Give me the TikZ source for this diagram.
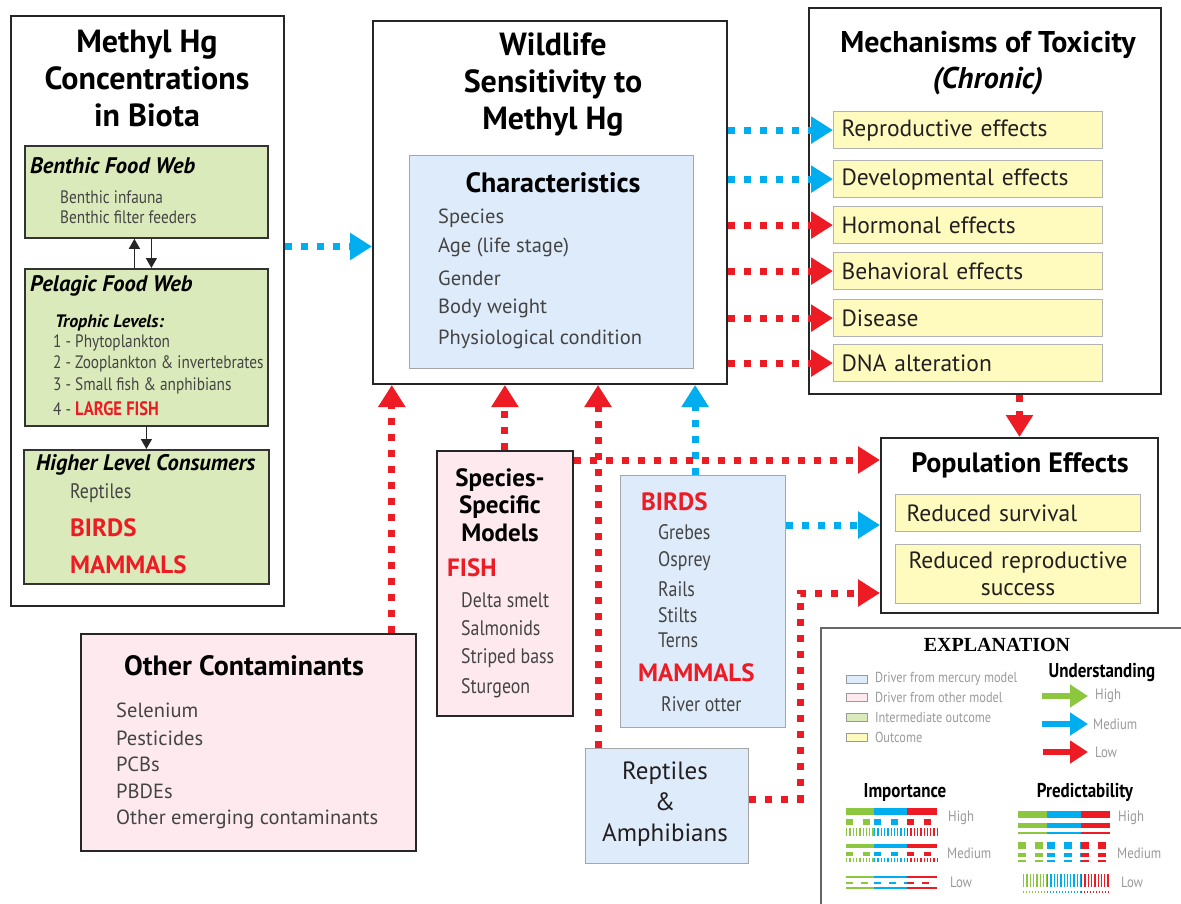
\documentclass[tikz,border=0pt]{standalone}
\usepackage{fontspec}
\setmainfont{PT Sans}
\newfontfamily\condfont[FakeStretch=0.85]{PT Sans}
\newfontfamily\serfont{Liberation Serif}
\usepackage{xcolor}
\usetikzlibrary{positioning,arrows.meta,calc}

\definecolor{hgred}{HTML}{ED1C24}
\definecolor{hgblue}{HTML}{00AEEF}
\definecolor{hggreen}{HTML}{8DC63F}
\definecolor{fillgreen}{HTML}{DBEABA}
\definecolor{fillpink}{HTML}{FDE9EE}
\definecolor{fillblue}{HTML}{DDEBFA}
\definecolor{fillyellow}{HTML}{FFFBBE}
\definecolor{txtdark}{HTML}{231F20}
\definecolor{txtgray}{HTML}{444444}
\definecolor{leggray}{HTML}{9A9A9A}

\newcommand{\fsz}[2]{\fontsize{#1}{#2}\selectfont}
% three coloured pieces of one legend line
\newcommand{\tribar}[6]{%
  \draw[hggreen,#2] (#3,#1) -- (#4,#1);
  \draw[hgblue,#2] (#4,#1) -- (#5,#1);
  \draw[hgred,#2] (#5,#1) -- (#6,#1);}

\begin{document}
\begin{tikzpicture}[x=1pt,y=-1pt]
  \tikzstyle{every node}=[inner sep=0, text=txtdark]
  \tikzstyle{bigbox}=[draw=black!85, line width=2pt, fill=white, anchor=north west]
  \tikzstyle{greenbox}=[draw=black!80, line width=1.8pt, fill=fillgreen, anchor=north west]
  \tikzstyle{pinkbox}=[draw=black!85, line width=1.8pt, fill=fillpink, anchor=north west]
  \tikzstyle{bluebox}=[draw=black!35, line width=1.2pt, fill=fillblue, anchor=north west]
  \tikzstyle{effbox}=[draw=black!30, line width=1.2pt, fill=fillyellow, anchor=north west, text width=253pt, inner xsep=8pt, minimum height=37pt, align=left, font=\fsz{23.5}{28}]
  \tikzstyle{ttl}=[font=\fsz{32}{37}\bfseries, align=center, text=black]
  \tikzstyle{hd}=[font=\fsz{28}{28}\bfseries, align=center, text=black]
  \tikzstyle{sub}=[font=\fsz{22.5}{24}\bfseries\itshape, anchor=west, text=black]
  \tikzstyle{itm}=[font=\condfont\fsz{21}{24}, anchor=west, text=txtgray]
  \tikzstyle{sitm}=[font=\condfont\fsz{18}{20}, anchor=west, text=txtgray]
  \tikzstyle{plain}=[font=\fsz{20.5}{24}, anchor=west, text=txtgray]
  \tikzstyle{redcap}=[font=\fsz{25}{28}\bfseries, anchor=west, text=hgred]
  \tikzstyle{legtxt}=[font=\condfont\fsz{14.5}{16}, anchor=west, text=leggray]
  \tikzstyle{legttl}=[font=\condfont\fsz{20}{22}\bfseries, text=black]
  \tikzstyle{redflow}=[hgred, line width=7pt, dash pattern=on 7pt off 9pt, -{Triangle[length=22pt,width=26pt]}]
  \tikzstyle{blueflow}=[hgblue, line width=7pt, dash pattern=on 7pt off 9pt, -{Triangle[length=22pt,width=26pt]}]
  \tikzstyle{blkflow}=[black!85, line width=1.3pt, -{Triangle[length=10pt,width=11pt]}]

  \fill[white] (0,0) rectangle (1181,903);
  \useasboundingbox (0,0) rectangle (1181,903);

  % left column
  \node[bigbox, minimum width=273pt, minimum height=590pt] (bio) at (10,15) {};
  \node[ttl] (biottl) at (147,79) {Methyl Hg\\Concentrations\\in Biota};
  \node[greenbox, minimum width=243pt, minimum height=92pt] (benth) at (24,145) {};
  \node[sub] (benthttl) at (30,166) {Benthic Food Web};
  \node[sitm] (benth1) at (60,197) {Benthic infauna};
  \node[sitm] (benth2) at (60,217) {Benthic filter feeders};
  \node[greenbox, minimum width=243pt, minimum height=157pt] (pelag) at (24,268) {};
  \node[sub] (pelagttl) at (30,286) {Pelagic Food Web};
  \node[sub, font=\fsz{18}{20}\bfseries\itshape] (troph) at (55,323) {Trophic Levels:};
  \node[sitm] (troph1) at (53,343) {1 - Phytoplankton};
  \node[sitm] (troph2) at (53,364) {2 - Zooplankton \& invertebrates};
  \node[sitm] (troph3) at (53,386) {3 - Small fish \& anphibians};
  \node[sitm] (troph4) at (53,409) {4 - \textcolor{hgred}{\fsz{19.5}{20}\bfseries LARGE FISH}};
  \node[greenbox, minimum width=245pt, minimum height=134pt] (high) at (23,449) {};
  \node[sub] (highttl) at (36,465) {Higher Level Consumers};
  \node[itm] (high1) at (70,493) {Reptiles};
  \node[redcap] (high2) at (70,528) {BIRDS};
  \node[redcap] (high3) at (70,565) {MAMMALS};

  \draw[blkflow] ($(pelag.north)+(-12,0)$) -- ($(benth.south)+(-12,0)$);
  \draw[blkflow] ($(benth.south)+(5,0)$) -- ($(pelag.north)+(5,0)$);
  \draw[blkflow] (pelag) -- (high);

  % wildlife sensitivity
  \node[bigbox, minimum width=354pt, minimum height=363pt] (wild) at (372,20) {};
  \node[ttl] (wildttl) at (553,85) {Wildlife\\Sensitivity to\\Methyl Hg};
  \node[bluebox, minimum width=284pt, minimum height=213pt] (chars) at (409,155) {};
  \node[hd] (charsttl) at (553,183) {Characteristics};
  \node[plain] (chars1) at (438,218) {Species};
  \node[plain] (chars2) at (438,247) {Age (life stage)};
  \node[plain] (chars3) at (438,278) {Gender};
  \node[plain] (chars4) at (438,308) {Body weight};
  \node[plain] (chars5) at (438,339) {Physiological condition};

  % mechanisms of toxicity
  \node[bigbox, minimum width=352pt, minimum height=386pt] (mech) at (808,7) {};
  \node[ttl, font=\fsz{30}{36}\bfseries] (mechttl) at (988,63) {Mechanisms of Toxicity\\\textit{(Chronic)}};
  \node[effbox] (rep) at (833,111) {Reproductive effects};
  \node[effbox] (dev) at (833,160) {Developmental effects};
  \node[effbox] (horm) at (833,206) {Hormonal effects};
  \node[effbox] (behav) at (833,252) {Behavioral effects};
  \node[effbox] (dis) at (833,299) {Disease};
  \node[effbox] (dna) at (833,344) {DNA alteration};

  % population effects
  \node[bigbox, minimum width=277pt, minimum height=175pt] (pop) at (880,437) {};
  \node[hd] (popttl) at (1020,465) {Population Effects};
  \node[effbox, text width=223pt, inner xsep=11pt] (surv) at (895,494) {Reduced survival};
  \node[effbox, text width=229pt, minimum height=59pt, align=center, font=\fsz{23.5}{27}] (succ) at (895,544) {Reduced reproductive\\success};

  % drivers
  \node[pinkbox, minimum width=136pt, minimum height=265pt] (spec) at (436,450) {};
  \node[hd, font=\fsz{25}{27.5}\bfseries] (specttl) at (500,505) {Species-\\Specific\\Models};
  \node[redcap] (fish) at (447,568) {FISH};
  \node[itm] (spec1) at (461,600) {Delta smelt};
  \node[itm] (spec2) at (461,628) {Salmonids};
  \node[itm] (spec3) at (461,658) {Striped bass};
  \node[itm] (spec4) at (461,688) {Sturgeon};

  \node[bluebox, minimum width=165pt, minimum height=252pt] (birds) at (620,475) {};
  \node[redcap] (birds0) at (641,502) {BIRDS};
  \node[itm] (birds1) at (658,532) {Grebes};
  \node[itm] (birds2) at (658,561) {Osprey};
  \node[itm] (birds3) at (658,589) {Rails};
  \node[itm] (birds4) at (658,615) {Stilts};
  \node[itm] (birds5) at (658,640) {Terns};
  \node[redcap] (mamm0) at (638,673) {MAMMALS};
  \node[itm] (mamm1) at (661,704) {River otter};

  \node[bluebox, minimum width=163pt, minimum height=115pt] (rept) at (585,748) {};
  \node[hd, font=\fsz{25}{31}, text=txtdark] (reptttl) at (665,804) {Reptiles\\\&\\Amphibians};

  \node[pinkbox, minimum width=335pt, minimum height=217pt] (oth) at (80,633) {};
  \node[hd] (othttl) at (244,666) {Other Contaminants};
  \node[plain] (oth1) at (116,710) {Selenium};
  \node[plain] (oth2) at (116,738) {Pesticides};
  \node[plain] (oth3) at (116,764) {PCBs};
  \node[plain] (oth4) at (116,791) {PBDEs};
  \node[plain] (oth5) at (116,819) {Other emerging contaminants};

  % connectors
  \coordinate (bioout) at ($(wild.west)+(0,44)$);
  \draw[blueflow] (bioout -| bio.east) -- (bioout);
  \draw[blueflow] (wild.east |- rep) -- (rep.west);
  \draw[blueflow] (wild.east |- dev) -- (dev.west);
  \draw[redflow] (wild.east |- horm) -- (horm.west);
  \draw[redflow] (wild.east |- behav) -- (behav.west);
  \draw[redflow] (wild.east |- dis) -- (dis.west);
  \draw[redflow] (wild.east |- dna) -- (dna.west);
  \draw[redflow] (pop.north |- mech.south) -- (pop.north);

  \coordinate (othup) at ($(oth.north east)+(-25,0)$);
  \draw[redflow] (othup) -- (othup |- wild.south);
  \draw[redflow] (spec.north) -- (spec.north |- wild.south);
  \coordinate (birdsup) at ($(birds.north)+(-8,0)$);
  \draw[blueflow] (birdsup) -- (birdsup |- wild.south);
  \coordinate (reptup) at ($(rept.north west)+(13,0)$);
  \draw[redflow] (reptup) -- (reptup |- wild.south);
  \coordinate (specout) at ($(spec.north east)+(0,10)$);
  \draw[redflow] (specout) -- (specout -| pop.west);
  \coordinate (birdsout) at ($(birds.north east)+(0,50)$);
  \draw[blueflow] (birdsout) -- (birdsout -| pop.west);
  \coordinate (reptbend) at (800,593);
  \draw[redflow] ($(rept.east)+(0,-7)$) -| (reptbend) -- (reptbend -| pop.west);

  % explanation
  \node[draw=black!60, line width=2pt, fill=white, anchor=north west, minimum width=380pt, minimum height=300pt] (expl) at (820,627) {};
  \node[font=\serfont\fsz{20}{22}\bfseries, text=black] (explttl) at (997,645) {EXPLANATION};
  \node[draw=black!40, line width=0.8pt, fill=fillblue, minimum width=21pt, minimum height=8pt, anchor=west] (sw1) at (846,679) {};
  \node[legtxt, right=7pt of sw1] (sw1t) {Driver from mercury model};
  \node[draw=black!40, line width=0.8pt, fill=fillpink, minimum width=21pt, minimum height=8pt, anchor=west] (sw2) at (846,697) {};
  \node[legtxt, right=7pt of sw2] (sw2t) {Driver from other model};
  \node[draw=black!40, line width=0.8pt, fill=fillgreen, minimum width=21pt, minimum height=8pt, anchor=west] (sw3) at (846,717) {};
  \node[legtxt, right=7pt of sw3] (sw3t) {Intermediate outcome};
  \node[draw=black!40, line width=0.8pt, fill=fillyellow, minimum width=21pt, minimum height=8pt, anchor=west] (sw4) at (846,737) {};
  \node[legtxt, right=7pt of sw4] (sw4t) {Outcome};

  \node[legttl] (undttl) at (1102,672) {Understanding};
  \node[legtxt, font=\condfont\fsz{15}{16}] (undhigh) at (1095,696) {High};
  \node[legtxt, font=\condfont\fsz{15}{16}] (undmed) at (1093,724) {Medium};
  \node[legtxt, font=\condfont\fsz{15}{16}] (undlow) at (1095,752) {Low};
  \draw[hggreen, line width=6pt, -{Triangle[length=18pt,width=22pt]}] ($(undhigh.west)+(-53,0)$) -- ($(undhigh.west)+(-7,0)$);
  \draw[hgblue, line width=6pt, -{Triangle[length=18pt,width=22pt]}] ($(undmed.west)+(-51,0)$) -- ($(undmed.west)+(-5,0)$);
  \draw[hgred, line width=6pt, -{Triangle[length=18pt,width=22pt]}] ($(undlow.west)+(-52,0)$) -- ($(undlow.west)+(-7,0)$);

  \node[legttl] (impttl) at (905,792) {Importance};
  \node[legttl] (predttl) at (1085,792) {Predictability};
  \node[legtxt, font=\condfont\fsz{15}{16}] (imphigh) at (948,818) {High};
  \node[legtxt, font=\condfont\fsz{15}{16}] (impmed) at (947,853) {Medium};
  \node[legtxt, font=\condfont\fsz{15}{16}] (implow) at (950,882) {Low};
  \node[legtxt, font=\condfont\fsz{15}{16}] (predhigh) at (1118,818) {High};
  \node[legtxt, font=\condfont\fsz{15}{16}] (predmed) at (1117,853) {Medium};
  \node[legtxt, font=\condfont\fsz{15}{16}] (predlow) at (1121,882) {Low};

  \tribar{811.5}{line width=7pt}{846}{874}{907}{937}
  \tribar{822}{line width=6pt, dash pattern=on 7pt off 10pt}{846}{874}{907}{937}
  \tribar{831.5}{line width=8pt, dash pattern=on 1.3pt off 2pt}{846}{874}{907}{937}
  \tribar{846}{line width=4.5pt}{846}{874}{907}{937}
  \tribar{854}{line width=4pt, dash pattern=on 7pt off 10pt}{846}{874}{907}{937}
  \tribar{860}{line width=4pt, dash pattern=on 1.3pt off 2pt}{846}{874}{907}{937}
  \tribar{877}{line width=1.8pt}{846}{874}{907}{937}
  \tribar{882.5}{line width=2pt, dash pattern=on 7pt off 8pt}{846}{874}{907}{937}
  \tribar{888}{line width=1.8pt}{846}{874}{907}{937}

  \tribar{814.5}{line width=7pt}{1018}{1047}{1081}{1110}
  \tribar{825.5}{line width=4.5pt}{1018}{1047}{1081}{1110}
  \tribar{832.5}{line width=2pt}{1018}{1047}{1081}{1110}
  \tribar{845.5}{line width=7pt, dash pattern=on 8pt off 8.7pt}{1018}{1047}{1081}{1110}
  \tribar{855}{line width=4.5pt, dash pattern=on 8pt off 8.7pt}{1018}{1047}{1081}{1110}
  \tribar{861}{line width=2pt, dash pattern=on 8pt off 8.7pt}{1018}{1047}{1081}{1110}
  \tribar{880}{line width=13pt, dash pattern=on 1.3pt off 2pt}{1023}{1047}{1081}{1110}
  \tribar{892}{line width=1.5pt, dash pattern=on 1pt off 2pt}{1023}{1047}{1081}{1110}
\end{tikzpicture}
\end{document}
